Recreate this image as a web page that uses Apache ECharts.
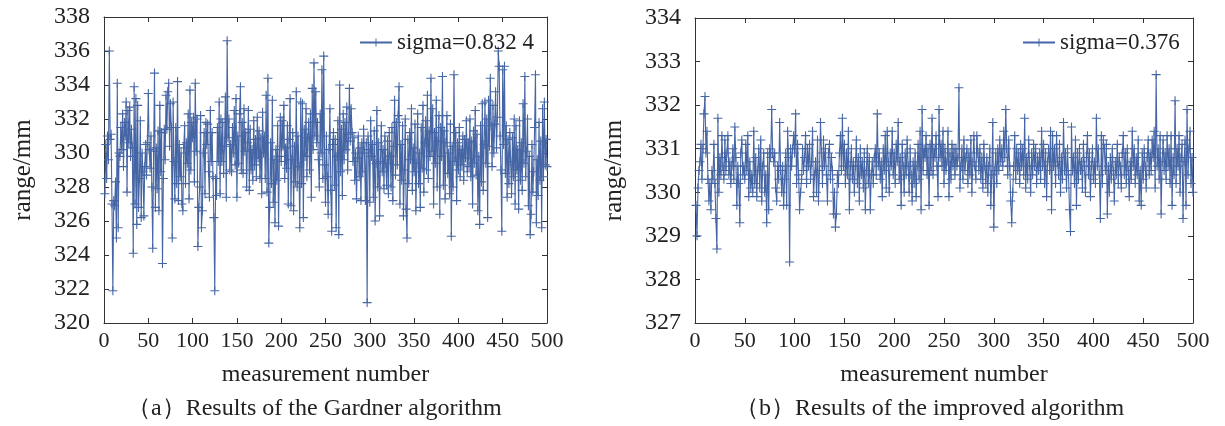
<!DOCTYPE html>
<html>
<head>
<meta charset="utf-8">
<script src="https://cdn.jsdelivr.net/npm/echarts@6/dist/echarts.min.js"></script>
<style>
html,body{margin:0;padding:0;background:#fff;}
#chart{width:1225px;height:426px;}
</style>
</head>
<body>
<div id="chart"></div>
<script>
// Gardner algorithm results (measurement 1..500)
var gardnerValues = [
327.6,330.5,328.5,331.0,329.6,336.0,330.8,331.1,327.0,321.9,
327.2,326.9,328.3,325.0,334.1,325.6,330.0,329.8,331.5,330.2,
332.3,329.2,331.8,331.0,333.0,327.7,332.5,330.6,332.7,329.8,
331.4,330.3,324.1,333.9,327.0,333.2,325.8,332.8,326.8,328.5,
331.9,326.2,330.0,328.9,326.3,329.2,330.5,328.7,330.6,333.5,
330.2,329.1,331.0,328.0,324.4,330.1,334.7,326.8,330.3,327.9,
331.3,326.6,332.8,328.9,331.2,323.5,328.5,331.4,329.6,333.4,
331.4,333.6,334.1,330.4,332.9,331.5,325.0,333.0,329.5,327.3,
331.5,328.2,334.2,327.2,330.5,328.6,330.0,327.0,326.6,330.3,
331.6,328.2,330.6,329.4,332.3,327.3,333.7,329.0,331.8,330.9,
332.1,328.3,334.1,330.1,332.0,324.5,326.8,328.0,332.2,325.6,
326.6,330.0,331.2,327.6,331.8,330.5,331.7,328.9,327.4,332.5,
329.5,331.2,328.6,326.2,321.9,328.5,327.5,331.5,329.5,333.0,
327.6,332.0,329.5,331.8,328.8,330.4,333.3,327.4,336.6,330.9,
332.0,329.0,330.5,328.9,331.5,330.0,332.5,329.3,333.2,327.4,
331.0,329.4,332.3,333.9,329.0,331.8,328.8,332.6,330.1,331.2,
328.0,330.6,332.5,327.8,331.4,329.0,330.2,328.4,331.9,329.3,
330.8,328.6,332.1,329.7,331.3,328.5,330.9,327.6,332.4,330.0,
331.0,328.5,333.4,327.7,334.4,324.7,326.8,330.6,328.2,333.1,
327.1,329.6,325.9,330.2,328.4,331.6,325.7,329.8,332.1,329.5,
331.9,330.4,332.8,328.5,330.3,329.1,331.6,327.0,330.8,333.2,
326.9,329.6,331.2,326.6,330.4,328.3,333.6,328.0,331.0,329.2,
325.6,333.0,328.2,332.9,326.2,331.4,329.8,332.6,328.6,330.9,
331.8,329.0,332.3,327.4,333.8,330.2,335.3,331.0,333.6,330.6,
331.8,329.6,328.0,332.3,330.0,334.9,328.5,335.7,329.3,327.1,
331.0,328.6,326.4,330.2,332.6,327.8,325.4,330.5,331.2,328.1,
330.8,325.6,329.8,331.9,325.2,334.0,328.9,331.4,327.5,332.3,
329.6,331.8,330.2,332.7,329.0,331.1,333.8,330.7,332.6,331.2,
329.5,330.9,328.4,330.0,327.3,329.7,331.0,328.6,330.3,327.2,
330.6,328.9,331.4,330.0,327.2,330.6,321.2,331.0,330.2,327.1,
331.9,329.8,330.5,327.4,331.3,326.0,329.4,332.5,328.0,330.6,
326.3,329.5,331.6,328.9,330.2,327.9,331.0,329.4,328.1,330.7,
327.6,331.2,329.8,328.0,331.5,327.2,330.4,333.1,328.7,331.8,
329.3,332.2,333.9,327.0,330.5,328.4,331.6,326.3,329.0,332.0,
326.7,325.0,330.8,328.2,331.2,329.6,332.6,327.8,330.3,328.9,
331.7,326.6,329.4,332.3,328.2,330.0,326.8,331.5,329.1,332.8,
327.7,330.6,331.9,329.0,333.4,328.5,331.3,329.8,334.4,330.1,
332.6,327.0,331.2,329.4,333.1,328.0,330.7,332.2,326.4,331.5,
329.8,334.5,328.1,331.3,327.3,330.6,332.2,328.8,330.0,327.6,
331.7,325.1,330.4,328.0,334.6,329.5,331.2,327.2,330.6,329.0,
331.5,328.6,330.2,329.3,331.0,328.4,330.8,329.7,331.9,328.9,
330.6,329.2,332.0,328.6,330.7,327.0,331.3,329.4,332.5,328.7,
331.1,326.6,329.8,325.8,331.6,328.3,332.9,327.8,330.5,333.0,
329.4,332.0,326.2,333.1,330.4,334.4,331.6,329.2,332.8,330.0,
331.7,333.6,330.3,332.1,336.0,335.1,331.0,329.0,325.4,334.9,
330.5,335.1,328.8,331.6,327.4,330.8,328.2,331.2,329.5,327.6,
330.9,328.6,332.0,327.0,331.6,329.0,330.2,326.7,331.9,328.4,
330.6,327.8,332.9,329.4,334.5,328.6,330.1,332.0,326.9,329.8,
325.2,326.4,330.5,327.7,328.9,331.5,334.6,325.9,329.6,327.5,
331.8,328.4,330.7,325.6,332.6,328.6,333.0,329.3,330.8,329.2
];
// Improved algorithm results (measurement 1..500)
var improvedValues = [
329.7,329.0,330.1,330.5,330.7,331.1,330.3,331.0,331.8,332.2,
330.9,331.4,330.3,329.8,330.2,329.6,330.5,330.3,331.1,330.2,
329.4,328.7,331.7,330.0,330.8,330.4,331.3,330.6,330.3,331.2,
330.5,330.9,331.3,330.4,330.7,330.2,330.6,331.0,330.3,331.5,
330.8,329.7,330.6,330.2,329.3,330.9,331.2,330.4,330.6,330.3,
331.1,330.5,331.3,329.9,330.7,330.1,330.4,330.0,331.4,330.2,
330.8,329.9,330.5,331.0,330.1,331.2,329.8,330.6,330.9,330.0,
330.4,329.3,330.9,329.6,331.0,330.8,331.9,330.9,330.7,330.9,
330.1,329.8,330.6,330.3,331.6,330.5,330.0,330.6,329.7,330.3,
330.9,329.7,331.4,330.8,328.4,331.0,330.6,331.0,331.3,330.9,
331.8,330.2,331.1,330.4,329.6,330.0,330.3,331.0,330.5,330.8,
331.3,330.2,331.0,330.6,331.1,330.3,330.7,331.4,329.9,330.4,
330.7,330.0,331.2,329.8,330.5,331.6,330.9,330.2,331.2,330.6,
331.0,330.4,329.8,330.9,331.1,330.3,330.8,330.5,329.5,330.0,
329.2,329.5,330.4,330.2,330.9,331.3,330.5,331.7,330.6,331.1,
330.2,330.9,330.4,331.4,329.6,330.6,331.0,330.3,330.7,330.0,
330.6,331.2,330.2,330.8,329.8,331.0,330.4,330.7,330.1,330.9,
329.6,330.5,331.0,330.2,330.8,329.6,330.4,330.7,330.2,330.8,
331.0,330.4,331.8,330.6,330.9,330.3,330.7,329.9,331.0,330.5,
331.3,330.1,331.4,330.7,330.0,330.9,330.6,331.4,330.4,330.9,
330.2,331.1,330.7,331.6,330.3,330.8,329.7,331.1,330.6,330.0,
330.9,330.4,331.2,330.6,330.0,331.0,330.4,329.8,330.7,330.2,
330.9,329.9,330.6,331.1,330.3,331.4,329.6,331.9,330.5,331.0,
330.8,331.3,330.4,331.0,329.7,331.1,330.5,331.7,330.4,331.0,
330.8,331.3,330.6,329.9,331.9,330.8,331.1,330.6,331.4,330.2,
331.0,330.5,330.7,331.4,329.9,330.9,330.3,331.1,330.6,331.0,
330.4,331.0,330.6,330.8,332.4,330.1,330.6,331.0,330.3,331.2,
330.5,330.8,331.0,330.2,330.9,330.4,331.2,330.0,330.7,331.3,
330.6,330.3,331.3,330.9,330.5,331.0,330.3,330.8,330.1,331.1,
330.6,330.2,330.8,330.0,330.6,331.0,329.7,330.4,331.6,329.2,
330.5,330.9,330.2,331.0,330.5,331.2,330.7,331.0,330.6,331.4,
330.8,331.9,331.0,330.4,331.2,330.6,329.8,329.3,330.0,330.6,
331.3,330.3,331.0,330.5,330.9,330.2,331.1,330.6,331.0,330.4,
331.7,330.1,330.8,330.3,331.2,330.6,330.0,330.9,330.4,331.1,
330.6,331.0,330.2,330.8,330.5,330.9,330.3,331.4,330.6,331.1,
330.2,330.9,329.9,330.7,331.0,330.5,331.4,329.6,331.3,330.6,
331.0,330.2,331.3,330.7,330.4,331.1,330.0,330.8,330.3,331.6,
330.5,330.9,330.1,331.0,330.4,329.6,329.1,331.5,330.5,330.8,
330.2,331.2,329.7,330.9,330.3,331.0,330.5,330.7,330.1,331.1,
330.6,330.0,330.8,331.3,330.4,330.9,329.9,330.6,331.0,330.3,
330.7,330.2,331.7,330.6,331.0,330.4,329.4,331.3,330.2,331.2,
331.0,330.5,331.1,329.5,330.6,330.0,330.8,330.3,331.0,330.5,
329.8,330.7,330.4,331.1,330.2,330.8,330.6,330.1,330.9,331.3,
330.4,330.9,330.2,331.0,330.5,329.9,330.7,330.3,331.4,330.6,
331.0,330.2,330.8,330.4,331.2,329.8,330.5,329.7,330.9,330.3,
331.0,330.6,330.1,330.8,331.2,330.4,330.9,330.5,331.2,330.8,
331.4,330.1,332.7,330.6,331.0,330.3,331.3,329.5,330.7,331.2,
330.5,330.9,330.3,331.3,330.6,331.0,330.2,331.3,329.7,330.8,
330.4,332.1,330.2,331.0,330.6,331.3,330.0,330.8,331.1,329.4,
330.7,331.2,329.7,331.9,330.4,331.0,331.4,330.2,330.8,330.0
];
var xTicks = {min: 0, max: 500, interval: 50};
var yLeft = {min: 320, max: 338, interval: 2};
var yRight = {min: 327, max: 334, interval: 1};
var legendLeft = 'sigma=0.832 4';
var legendRight = 'sigma=0.376';
var captionLeft = '（a）Results of the Gardner algorithm';
var captionRight = '（b）Results of the improved algorithm';
var xName = 'measurement number';
var yName = 'range/mm';

function toPairs(arr){ return arr.map(function(v,i){ return [i+1, v]; }); }

var FONT = '"Liberation Serif","Times New Roman",serif';
var AX = '#333';
var LINE = '#4565a4';
var cross = 'path://M4.4,0H5.6V4.4H10V5.6H5.6V10H4.4V5.6H0V4.4H4.4Z';

function xAxisDef(grid, bottom){
  return {
    type:'value', gridIndex:grid, min:xTicks.min, max:xTicks.max, interval:xTicks.interval,
    position: bottom ? 'bottom' : 'top',
    name: bottom ? xName : '', nameLocation:'middle', nameGap:40,
    nameTextStyle:{fontFamily:FONT, fontSize:24, color:'#222'},
    axisLine:{show:true, onZero:false, lineStyle:{color:AX, width:1}},
    axisTick:{show:true, inside:true, length:5, lineStyle:{color:AX}},
    axisLabel:{show:bottom, fontFamily:FONT, fontSize:22, color:'#222', margin:7},
    splitLine:{show:false}
  };
}
function yAxisDef(grid, r, left){
  return {
    type:'value', gridIndex:grid, min:r.min, max:r.max, interval:r.interval,
    position: left ? 'left' : 'right',
    name: left ? yName : '', nameLocation:'middle', nameGap:68, nameRotate:90,
    nameTextStyle:{fontFamily:FONT, fontSize:25, color:'#222'},
    axisLine:{show:true, onZero:false, lineStyle:{color:AX, width:1}},
    axisTick:{show:true, inside:true, length:5, lineStyle:{color:AX}},
    axisLabel:{show:left, fontFamily:FONT, fontSize:24, color:'#222', margin:14},
    splitLine:{show:false}
  };
}
function seriesDef(name, data, idx){
  return {
    name:name, type:'line', xAxisIndex:idx*2, yAxisIndex:idx*2,
    data:toPairs(data), symbol:cross, symbolSize:9, showAllSymbol:true,
    lineStyle:{color:LINE, width:1.1}, itemStyle:{color:LINE},
    emphasis:{disabled:true}, animation:false
  };
}

var chart = echarts.init(document.getElementById('chart'), null, {renderer:'canvas'});
chart.setOption({
  backgroundColor:'#fff',
  animation:false,
  grid:[
    {left:104, right:678, top:17, bottom:103},
    {left:695, right:32, top:18, bottom:103}
  ],
  xAxis:[xAxisDef(0,true), xAxisDef(0,false), xAxisDef(1,true), xAxisDef(1,false)],
  yAxis:[yAxisDef(0,yLeft,true), yAxisDef(0,yLeft,false), yAxisDef(1,yRight,true), yAxisDef(1,yRight,false)],
  legend:[
    {data:[legendLeft], left:354, top:26, itemWidth:32, itemHeight:10, itemGap:4,
     textStyle:{fontFamily:FONT, fontSize:23, color:'#222'}},
    {data:[legendRight], left:1017, top:26, itemWidth:32, itemHeight:10, itemGap:4,
     textStyle:{fontFamily:FONT, fontSize:23, color:'#222'}}
  ],
  graphic:[
    {type:'text', top:397, left:127, style:{text:captionLeft, font:'24px '+FONT, fill:'#222'}},
    {type:'text', top:397, left:735, style:{text:captionRight, font:'24px '+FONT, fill:'#222'}}
  ],
  series:[seriesDef(legendLeft, gardnerValues, 0), seriesDef(legendRight, improvedValues, 1)]
});
</script>
</body>
</html>
